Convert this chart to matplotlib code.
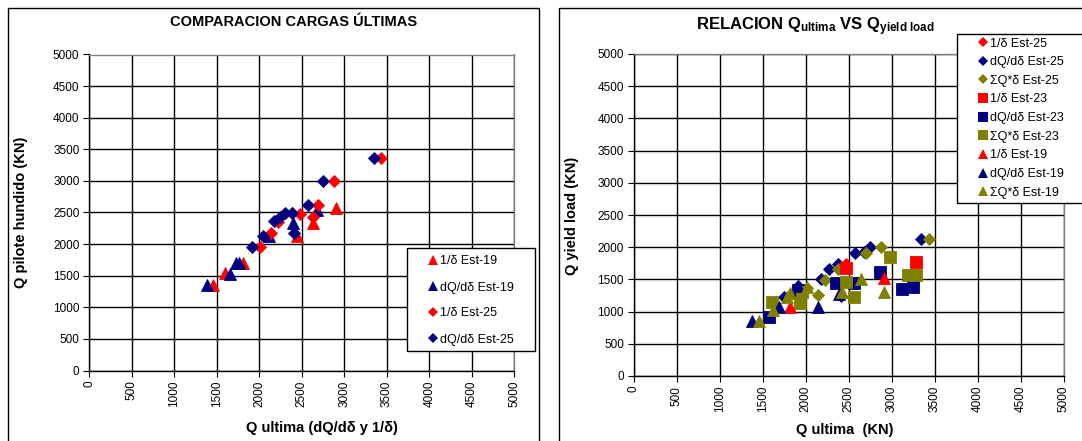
import matplotlib
matplotlib.use("Agg")
import matplotlib.pyplot as plt
from matplotlib.patches import Rectangle
from matplotlib.lines import Line2D

plt.rcParams['font.family'] = ['Liberation Sans', 'DejaVu Sans']
plt.rcParams['mathtext.fontset'] = 'custom'
plt.rcParams['mathtext.rm'] = 'Liberation Sans'
plt.rcParams['mathtext.bf'] = 'Liberation Sans:bold'
plt.rcParams['mathtext.it'] = 'Liberation Sans:italic'

# ---- Comparación de cargas últimas (Q ultima vs Q pilote hundido) ----
est19_inv_x = [1458, 1596, 1812, 2441, 2637, 2904]
est19_inv_y = [1360, 1535, 1704, 2127, 2330, 2570]
est19_dq_x = [1390, 1660, 1725, 1764, 2110, 2393, 2677]
est19_dq_y = [1360, 1530, 1704, 1704, 2130, 2340, 2545]
est25_inv_x = [2008, 2140, 2224, 2385, 2476, 2637, 2696, 2885, 3435]
est25_inv_y = [1950, 2169, 2355, 2495, 2476, 2424, 2619, 3005, 3360]
est25_dq_x = [1910, 2040, 2170, 2244, 2305, 2390, 2410, 2578, 2755, 3345]
est25_dq_y = [1958, 2132, 2360, 2433, 2487, 2487, 2169, 2619, 3005, 3360]

# ---- Relación Q ultima vs Q yield load ----
r25_inv_x = [2470]
r25_inv_y = [1745]
r25_dq_x = [1745, 1910, 2175, 2270, 2370, 2405, 2575, 2680, 2750, 3335]
r25_dq_y = [1230, 1390, 1500, 1657, 1740, 1235, 1905, 1930, 2008, 2125]
r25_sum_x = [2020, 2140, 2230, 2370, 2700, 2880, 3430]
r25_sum_y = [1360, 1255, 1490, 1660, 1915, 2008, 2125]

r23_inv_x = [2466, 3285]
r23_inv_y = [1680, 1775]
r23_dq_x = [1570, 1910, 2350, 2563, 2866, 3116, 3244]
r23_dq_y = [911, 1330, 1440, 1440, 1620, 1351, 1387]
r23_sum_x = [1610, 1933, 1960, 2466, 2556, 2983, 3186, 3282]
r23_sum_y = [1154, 1138, 1310, 1464, 1231, 1853, 1568, 1568]

r19_inv_x = [1816, 2905, 2466]
r19_inv_y = [1076, 1517, 1730]
r19_dq_x = [1377, 1688, 1909, 2142, 2388]
r19_dq_y = [859, 1076, 1390, 1076, 1273]
r19_sum_x = [1462, 1622, 1785, 1812, 2010, 2427, 2641, 2905]
r19_sum_y = [859, 1025, 1231, 1293, 1380, 1300, 1506, 1309]

axis_ticks = list(range(0, 5001, 500))

RED = '#FF0000'
NAVY = '#000080'
OLIVE = '#808000'

MS = {'D': 5.8, 's': 8.0, '^': 8.0}      # marker sizes in the plots
LMS = {'D': 5.0, 's': 6.5, '^': 6.8}     # marker sizes in the legends

W, H = 1082, 441
fig = plt.figure(figsize=(W / 100, H / 100), dpi=100)


def fx(px):
    return px / W


def fy(py):
    return 1 - py / H


def style_axes(ax):
    ax.set_xlim(0, 5000)
    ax.set_ylim(0, 5000)
    ax.set_xticks(axis_ticks)
    ax.set_yticks(axis_ticks)
    ax.set_xticklabels([str(t) for t in axis_ticks], rotation=90)
    ax.grid(True, color='black', linewidth=1.0)
    ax.set_axisbelow(True)
    for s in ('left', 'bottom'):
        ax.spines[s].set_color('black')
        ax.spines[s].set_linewidth(1.0)
    for s in ('top', 'right'):
        ax.spines[s].set_color('#808080')
        ax.spines[s].set_linewidth(1.0)
    ax.tick_params(direction='out', length=4, width=0.8, labelsize=8.5,
                   colors='black', pad=3)


def scatter(ax, xs, ys, mk, col):
    ax.plot(xs, ys, mk, color=col, markersize=MS[mk], linestyle='none',
            markeredgewidth=0.6, markeredgecolor=col, clip_on=False)


def legend_handle(mk, col):
    return Line2D([], [], marker=mk, color=col, linestyle='none',
                  markersize=LMS[mk], markeredgewidth=0)


# outer chart frames
fig.patches.append(Rectangle((fx(7.5), fy(446)), fx(538.5) - fx(7.5),
                             fy(7.5) - fy(446), transform=fig.transFigure,
                             fill=False, edgecolor='black', linewidth=1.0))
fig.patches.append(Rectangle((fx(558.5), fy(446)), fx(1100) - fx(558.5),
                             fy(7.5) - fy(446), transform=fig.transFigure,
                             fill=False, edgecolor='black', linewidth=1.0))

# ---------------- left chart ----------------
ax1 = fig.add_axes([fx(89.2), fy(370.5), fx(514.2) - fx(89.2), fy(54.5) - fy(370.5)])
style_axes(ax1)
series1 = [
    (est19_inv_x, est19_inv_y, '^', RED, '1/δ Est-19'),
    (est19_dq_x, est19_dq_y, '^', NAVY, 'dQ/dδ Est-19'),
    (est25_inv_x, est25_inv_y, 'D', RED, '1/δ Est-25'),
    (est25_dq_x, est25_dq_y, 'D', NAVY, 'dQ/dδ Est-25'),
]
for xs, ys, mk, col, lab in series1:
    scatter(ax1, xs, ys, mk, col)

fig.patches.append(Rectangle((fx(406.7), fy(350.7)), fx(535) - fx(406.7),
                             fy(248.3) - fy(350.7), transform=fig.transFigure,
                             facecolor='white', edgecolor='black', linewidth=1.0,
                             zorder=5))
leg1 = fig.legend([legend_handle(s[2], s[3]) for s in series1],
                  [s[4] for s in series1],
                  loc='upper left', bbox_to_anchor=(fx(428), fy(255.5)),
                  frameon=False, fontsize=9,
                  handlelength=0.8, handletextpad=0.15, labelspacing=1.12,
                  borderpad=0, borderaxespad=0)
leg1.set_zorder(10)

fig.text(fx(294), fy(26), 'COMPARACION CARGAS ÚLTIMAS', ha='center',
         va='baseline', fontsize=10.5, fontweight='bold')
fig.text(fx(21), fy(212), 'Q pilote hundido (KN)', rotation=90, ha='center',
         va='center', fontsize=10.5, fontweight='bold')
fig.text(fx(322), fy(428), 'Q ultima (dQ/dδ y 1/δ)', ha='center',
         va='center', fontsize=10.5, fontweight='bold')

# ---------------- right chart ----------------
ax2 = fig.add_axes([fx(633.7), fy(376), fx(1063.7) - fx(633.7), fy(54) - fy(376)])
style_axes(ax2)
series2 = [
    (r25_inv_x, r25_inv_y, 'D', RED, '1/δ Est-25'),
    (r25_dq_x, r25_dq_y, 'D', NAVY, 'dQ/dδ Est-25'),
    (r25_sum_x, r25_sum_y, 'D', OLIVE, 'ΣQ*δ Est-25'),
    (r23_inv_x, r23_inv_y, 's', RED, '1/δ Est-23'),
    (r23_dq_x, r23_dq_y, 's', NAVY, 'dQ/dδ Est-23'),
    (r23_sum_x, r23_sum_y, 's', OLIVE, 'ΣQ*δ Est-23'),
    (r19_inv_x, r19_inv_y, '^', RED, '1/δ Est-19'),
    (r19_dq_x, r19_dq_y, '^', NAVY, 'dQ/dδ Est-19'),
    (r19_sum_x, r19_sum_y, '^', OLIVE, 'ΣQ*δ Est-19'),
]
for xs, ys, mk, col, lab in series2:
    scatter(ax2, xs, ys, mk, col)

fig.patches.append(Rectangle((fx(956.7), fy(202.7)), fx(1100) - fx(956.7),
                             fy(34) - fy(202.7), transform=fig.transFigure,
                             facecolor='white', edgecolor='black', linewidth=1.0,
                             zorder=5))
leg2 = fig.legend([legend_handle(s[2], s[3]) for s in series2],
                  [s[4] for s in series2],
                  loc='upper left', bbox_to_anchor=(fx(978), fy(37.6)),
                  frameon=False, fontsize=9, handlelength=0.8,
                  handletextpad=0.15, labelspacing=0.53, borderpad=0,
                  borderaxespad=0)
leg2.set_zorder(10)

fig.text(fx(815), fy(30),
         r'$\mathbf{RELACION\ Q_{ultima}\ VS\ Q_{yield\ load}}$',
         ha='center', va='baseline', fontsize=12)
fig.text(fx(572), fy(216), 'Q yield load (KN)', rotation=90, ha='center',
         va='center', fontsize=10.5, fontweight='bold')
fig.text(fx(845), fy(430), 'Q ultima  (KN)', ha='center', va='center',
         fontsize=10.5, fontweight='bold')

fig.savefig('out.png', dpi=100)
